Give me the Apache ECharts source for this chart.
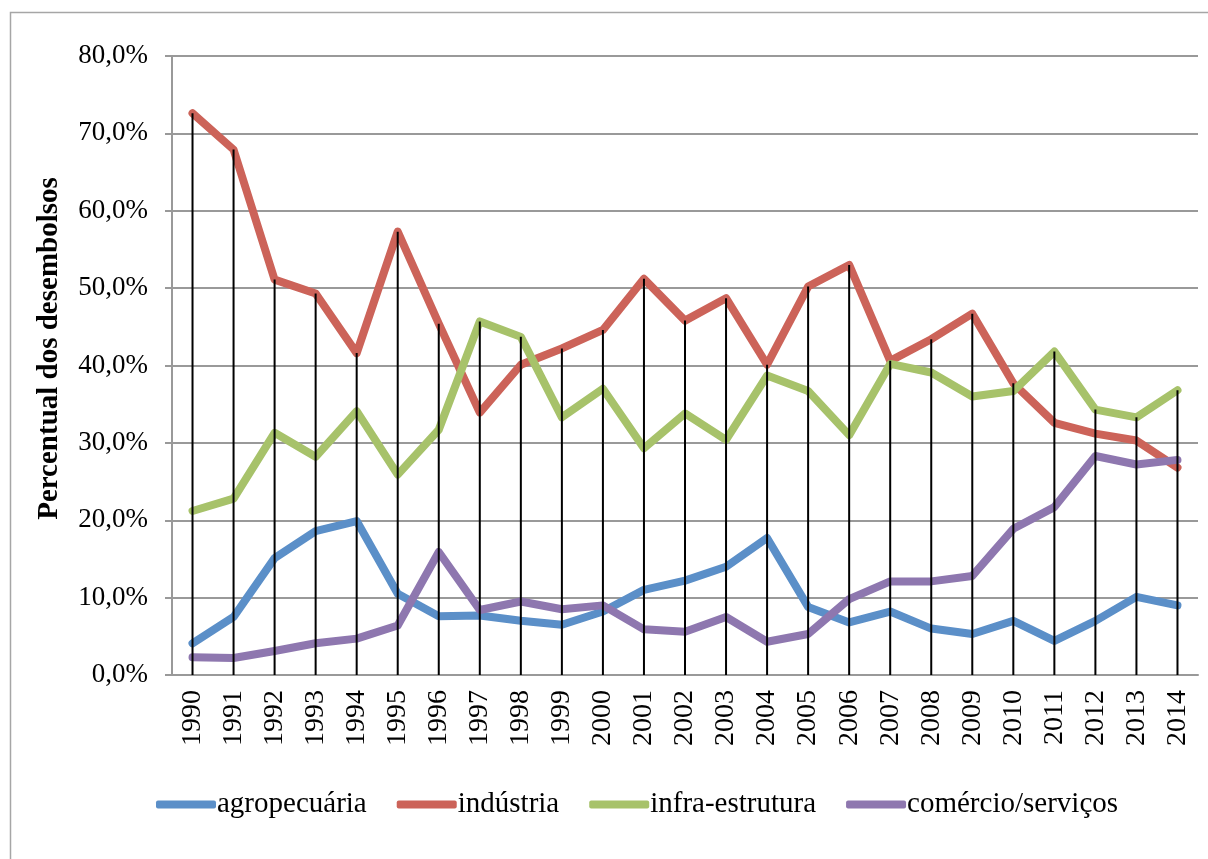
<!DOCTYPE html>
<html>
<head>
<meta charset="utf-8">
<script src="https://cdn.jsdelivr.net/npm/echarts@6/dist/echarts.min.js"></script>
<style>
html,body{margin:0;padding:0;background:#fff;}
#chart{width:1208px;height:859px;}
</style>
</head>
<body>
<div id="chart"></div>
<script>
const years = ['1990','1991','1992','1993','1994','1995','1996','1997','1998','1999','2000','2001','2002','2003','2004','2005','2006','2007','2008','2009','2010','2011','2012','2013','2014'];
const agropecuaria = [4.1,7.5,15.1,18.6,19.9,10.5,7.6,7.7,7.0,6.5,8.2,11.0,12.2,14.0,17.7,8.8,6.8,8.2,6.0,5.3,7.0,4.4,7.0,10.1,9.0];
const industria = [72.6,67.9,51.1,49.3,41.6,57.3,45.4,33.9,40.1,42.2,44.6,51.2,45.8,48.7,40.1,50.2,53.0,40.6,43.4,46.7,37.7,32.6,31.2,30.3,26.8];
const infraestrutura = [21.2,22.8,31.3,28.2,34.1,25.9,31.7,45.7,43.7,33.3,37.0,29.3,33.8,30.4,38.7,36.7,31.0,40.2,39.1,36.0,36.7,41.8,34.3,33.3,36.8];
const comercio = [2.3,2.2,3.1,4.1,4.7,6.4,15.9,8.4,9.5,8.5,9.0,5.9,5.6,7.5,4.3,5.3,9.8,12.1,12.1,12.8,18.9,21.7,28.3,27.2,27.8];
const seriesNames = ['agropecuária','indústria','infra-estrutura','comércio/serviços'];
const colors = ['#5B8FC8','#CC6359','#A7C26A','#8E77AF'];

const dropLines = years.map((_, i) => Math.max(agropecuaria[i], industria[i], infraestrutura[i], comercio[i]));

const font = '"Liberation Serif", "DejaVu Serif", serif';
const chart = echarts.init(document.getElementById('chart'));

function lineSeries(name, data, color) {
  return {
    name: name, type: 'line', data: data, showSymbol: false, symbol: 'none',
    lineStyle: { color: color, width: 8, cap: 'round', join: 'round' },
    itemStyle: { color: color },
    z: 3, animation: false
  };
}

chart.setOption({
  animation: false,
  color: colors,
  graphic: [{
    type: 'rect', shape: { x: 10.5, y: 12.5, width: 1210, height: 860 },
    style: { fill: 'none', stroke: '#A6A6A6', lineWidth: 1.5 }, silent: true, z: 0
  }],
  grid: { left: 172, right: 10, top: 56, bottom: 184 },
  legend: {
    data: seriesNames,
    left: 151, top: 785,
    icon: 'roundRect', itemWidth: 60, itemHeight: 8, itemGap: 30,
    textStyle: { fontFamily: font, fontSize: 29, color: '#000', padding: [0, 0, 0, -4] }
  },
  xAxis: {
    type: 'category', data: years, boundaryGap: true,
    axisLine: { lineStyle: { color: '#999', width: 2 } },
    axisTick: { show: false },
    axisLabel: { rotate: 90, fontFamily: font, fontSize: 28, color: '#000', margin: 15, interval: 0 }
  },
  yAxis: {
    type: 'value', min: 0, max: 80, interval: 10,
    name: 'Percentual dos desembolsos', nameLocation: 'middle', nameGap: 108,
    nameTextStyle: { fontFamily: font, fontSize: 29, fontWeight: 'bold', color: '#000', padding: [0, 0, 0, 34] },
    axisLine: { show: true, lineStyle: { color: '#999', width: 2 } },
    axisTick: { show: true, length: 7, lineStyle: { color: '#999', width: 2 } },
    splitLine: { lineStyle: { color: '#999', width: 2 } },
    axisLabel: { fontFamily: font, fontSize: 27, color: '#000', margin: 24,
      formatter: v => v.toFixed(1).replace('.', ',') + '%' }
  },
  series: [
    lineSeries(seriesNames[0], agropecuaria, colors[0]),
    lineSeries(seriesNames[1], industria, colors[1]),
    lineSeries(seriesNames[2], infraestrutura, colors[2]),
    lineSeries(seriesNames[3], comercio, colors[3]),
    { name: 'drop', type: 'bar', data: dropLines, barWidth: 2,
      itemStyle: { color: '#000' }, z: 5, silent: true, animation: false }
  ]
});
</script>
</body>
</html>
